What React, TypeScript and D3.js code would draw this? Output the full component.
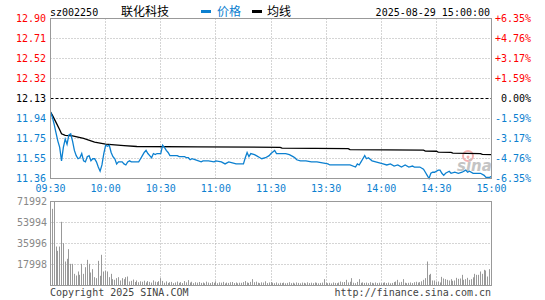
import { useMemo } from "react"
import * as d3 from 'd3'

// stock info
const code = "sz002250"
const stockName = "联化科技"
const dateLabel = "2025-08-29 15:00:00"
const prevClose = 12.13
const maxPct = 6.35

const priceTicks = ["12.90", "12.71", "12.52", "12.32", "12.13", "11.94", "11.75", "11.55", "11.36"]
const pctTicks = [6.35, 4.76, 3.17, 1.59, 0, -1.59, -3.17, -4.76, -6.35]
const pctLabels = ["+6.35%", "+4.76%", "+3.17%", "+1.59%", "0.00%", "-1.59%", "-3.17%", "-4.76%", "-6.35%"]
const volTicks = [71992, 53994, 35996, 17998]
const volMax = 71992

// minute index (0 = 09:30, 120 = 11:30/13:00, 240 = 15:00)
const timeTicks = [0, 30, 60, 90, 120, 150, 180, 210, 240]
const timeLabels = ["09:30", "10:00", "10:30", "11:00", "11:30", "13:30", "14:00", "14:30", "15:00"]

// [minute, price]
const pricePoints: [number, number][] = [
  [0, 12.00], [1, 11.95], [2, 11.88], [3, 11.80], [4, 11.72], [5, 11.66], [6, 11.53], [7, 11.66], [8, 11.74], [9, 11.69],
  [10, 11.78], [11, 11.79], [12, 11.72], [13, 11.63], [14, 11.58], [15, 11.55], [16, 11.56], [17, 11.60], [18, 11.53], [19, 11.52],
  [20, 11.57], [21, 11.58], [22, 11.53], [23, 11.55], [24, 11.55], [25, 11.52], [26, 11.47], [27, 11.43], [28, 11.49], [29, 11.60],
  [30, 11.68], [31, 11.67], [32, 11.68], [33, 11.61], [34, 11.57], [35, 11.55], [36, 11.50], [37, 11.52], [38, 11.52], [39, 11.52],
  [40, 11.50], [41, 11.49], [42, 11.52], [43, 11.53], [44, 11.52], [46, 11.52], [48, 11.52], [49, 11.55], [50, 11.58], [51, 11.61],
  [52, 11.63], [53, 11.60], [54, 11.58], [55, 11.56], [56, 11.60], [57, 11.59], [58, 11.60], [60, 11.60], [61, 11.68], [62, 11.66],
  [63, 11.63], [64, 11.61], [65, 11.58], [69, 11.58], [70, 11.57], [73, 11.57], [74, 11.56], [75, 11.56], [76, 11.54], [77, 11.55],
  [79, 11.54], [82, 11.52], [83, 11.53], [86, 11.53], [89, 11.52], [90, 11.53], [93, 11.52], [95, 11.50], [97, 11.52], [99, 11.51],
  [101, 11.50], [105, 11.50], [106, 11.56], [107, 11.61], [108, 11.57], [109, 11.60], [111, 11.59], [112, 11.58], [114, 11.56], [115, 11.55],
  [117, 11.56], [119, 11.58], [120, 11.60], [122, 11.63], [123, 11.60], [126, 11.60], [128, 11.60], [130, 11.59], [132, 11.57], [133, 11.56],
  [134, 11.54], [136, 11.53], [139, 11.53], [142, 11.52], [145, 11.52], [148, 11.51], [151, 11.50], [152, 11.49], [158, 11.49], [163, 11.49],
  [166, 11.47], [167, 11.50], [168, 11.49], [169, 11.52], [170, 11.55], [171, 11.58], [172, 11.55], [173, 11.56], [175, 11.53], [177, 11.52],
  [179, 11.51], [181, 11.50], [183, 11.49], [185, 11.50], [187, 11.48], [189, 11.49], [191, 11.47], [193, 11.49], [195, 11.47], [197, 11.48],
  [198, 11.47], [201, 11.47], [203, 11.45], [204, 11.42], [205, 11.39], [206, 11.36], [207, 11.41], [208, 11.42], [209, 11.42], [211, 11.44],
  [212, 11.44], [213, 11.41], [214, 11.39], [215, 11.41], [217, 11.43], [218, 11.41], [220, 11.42], [222, 11.41], [224, 11.42], [226, 11.44],
  [227, 11.42], [228, 11.43], [230, 11.41], [232, 11.41], [234, 11.41], [236, 11.39], [237, 11.37], [239, 11.37], [240, 11.38],
]

// [minute, average price]
const avgPoints: [number, number][] = [
  [0, 12.00], [1, 11.97], [3, 11.90], [5, 11.83], [6, 11.79], [8, 11.775], [12, 11.77], [18, 11.745], [24, 11.71], [30, 11.69],
  [40, 11.676], [47, 11.668], [80, 11.665], [125, 11.660], [126, 11.652], [162, 11.648], [163, 11.638], [203, 11.632], [204, 11.624],
  [210, 11.622], [211, 11.614], [218, 11.612], [219, 11.605], [234, 11.600], [235, 11.592], [240, 11.590],
]

// volume per minute, 241 values
const volumes = [
  30570, 65700, 71992, 33400, 29700, 33400, 54570, 36280, 20570, 22860,
  31140, 18570, 18570, 10000, 8570, 12000, 9140, 18570, 10000, 15700,
  22000, 18570, 11140, 14000, 7140, 6290, 21140, 8290, 26290, 12000,
  12570, 12000, 7140, 10000, 5430, 4860, 6290, 7140, 4290, 6290,
  5430, 7140, 7710, 3430, 4000, 5100, 3000, 4300, 2800, 3600,
  3200, 4100, 2600, 3800, 3100, 2500, 4400, 3300, 2900, 3700,
  6290, 3900, 2400, 3500, 2200, 2800, 3100, 2000, 2600, 3400,
  2300, 2900, 2100, 3800, 2700, 4600, 2500, 3200, 2000, 2800,
  2400, 3000, 2200, 2600, 1900, 3300, 2500, 2100, 2900, 2300,
  3600, 2000, 2700, 2400, 3100, 1800, 2500, 2200, 2800, 3000,
  2100, 2600, 1900, 2400, 2300, 2900, 3800, 2600, 2200, 3100,
  5430, 2800, 3300, 2400, 2000, 2700, 2500, 3600, 2100, 2600,
  3000,
  2400, 2000, 2600, 1800, 2300, 2100, 2500, 1900, 2200, 2800,
  2000, 2400, 1700, 2600, 2200, 1900, 2500, 2300, 1800, 2700,
  2100, 2400, 2000, 2600, 2300, 1900, 2200, 2500, 5430, 2400,
  2000, 2300, 1800, 2600, 2200, 2000, 2500, 3400, 2800, 3000,
  4860, 2600, 3200, 6290, 2400, 2000, 3100, 5430, 2300, 2700,
  2200, 2500, 2000, 2800, 2300, 1900, 2600, 2100, 2400, 2000,
  2300, 2700, 2100, 2500, 1900, 2200, 2900, 3400, 4860, 2600,
  3100, 5430, 2400, 2000, 2300, 2600, 2100, 2800, 3200, 2500,
  2900, 3600, 4860, 6290, 20570, 9140, 10000, 4300, 4300, 3430,
  3430, 2600, 7400, 6000, 5430, 4860, 4300, 5430, 4000, 4300,
  6570, 5700, 6000, 9140, 4860, 5430, 6570, 4860, 5430, 7000,
  10000, 9140, 9140, 12000, 10000, 13430, 12860, 7710, 14000, 13000,
]

const RED = "#ff0000"
const BLUE = "#0c80d0"
const GRID = "#aaaaaa"
const BORDER = "#999999"
const MONO = "'DejaVu Sans Mono', monospace"
const CJK = "'Noto Sans CJK SC', sans-serif"

const App = () => {
  const left = 50.5, right = 491.5
  const top = 18.5, bottom = 178.5
  const vTop = 201.5, vBottom = 285.5

  const { x, yPrice, yPct, yVol } = useMemo(() => {
    const x = d3.scaleLinear().domain([0, 240]).range([left, right])
    const yPrice = d3.scaleLinear()
      .domain([prevClose * (1 - maxPct / 100), prevClose * (1 + maxPct / 100)])
      .range([bottom, top])
    const yPct = d3.scaleLinear().domain([-maxPct, maxPct]).range([bottom, top])
    const yVol = d3.scaleLinear().domain([0, volMax]).range([vBottom, vTop])
    return { x, yPrice, yPct, yVol }
  }, [])

  const priceLine = d3.line<[number, number]>()
    .x(d => x(d[0]))
    .y(d => yPrice(d[1]))(pricePoints) || ""
  const avgLine = d3.line<[number, number]>()
    .x(d => x(d[0]))
    .y(d => yPrice(d[1]))(avgPoints) || ""

  const snap = (v: number) => Math.round(v - 0.5) + 0.5
  const tickColor = (p: number) => (p > 0 ? RED : p < 0 ? BLUE : "#000")

  return (
    <div style={{ position: "absolute", left: 0, top: 0 }}>
      <svg width={545} height={300} style={{ display: "block", background: "#fff" }}>
        {/* header */}
        <text x={50} y={12} dy="0.35em" fontFamily={MONO} fontSize={10}>{code}</text>
        <text x={121} y={12} dy="0.35em" fontFamily={CJK} fontSize={12}>{stockName}</text>
        <rect x={201} y={10} width={10} height={3} fill={BLUE} />
        <text x={217} y={12} dy="0.35em" fontFamily={CJK} fontSize={12} fill={BLUE}>价格</text>
        <rect x={252} y={10} width={10} height={3} fill="#000" />
        <text x={267} y={12} dy="0.35em" fontFamily={CJK} fontSize={12}>均线</text>
        <text x={490} y={12} dy="0.35em" fontFamily={MONO} fontSize={10} textAnchor="end">{dateLabel}</text>

        {/* price grid */}
        {pctTicks.map((p, i) => {
          const y = snap(yPct(p))
          return (
            <g key={p}>
              {i > 0 && i < pctTicks.length - 1 && (
                <line x1={left} x2={right} y1={y} y2={y}
                  stroke={p === 0 ? "#000" : GRID}
                  strokeDasharray={p === 0 ? "3 2" : "1 2"} />
              )}
              <text x={46} y={yPct(p)} dy="0.35em" textAnchor="end"
                fontFamily={MONO} fontSize={10} fill={tickColor(p)}>{priceTicks[i]}</text>
              <text x={531} y={yPct(p)} dy="0.35em" textAnchor="end"
                fontFamily={MONO} fontSize={10} fill={tickColor(p)}>{pctLabels[i]}</text>
            </g>
          )
        })}
        {timeTicks.map((t, i) => {
          const xx = snap(x(t))
          return (
            <g key={t}>
              {i > 0 && i < timeTicks.length - 1 && (
                <>
                  <line x1={xx} x2={xx} y1={top} y2={bottom} stroke={GRID} strokeDasharray="1 2" />
                  <line x1={xx} x2={xx} y1={vTop} y2={vBottom} stroke={GRID} strokeDasharray="1 2" />
                </>
              )}
              <text x={x(t)} y={188} dy="0.35em" textAnchor="middle"
                fontFamily={MONO} fontSize={10} fill={BLUE}>{timeLabels[i]}</text>
            </g>
          )
        })}

        {/* watermark */}
        <circle cx={468} cy={156} r={5} fill="none" stroke="#f4b0b0" strokeWidth={2} />
        <circle cx={468} cy={157} r={1.5} fill="#f4b0b0" />
        <text x={457} y={171} fontFamily="'DejaVu Sans', sans-serif" fontSize={15}
          fontStyle="italic" fontWeight="bold" fill="#c4c4c4">sina</text>

        {/* lines */}
        <path d={avgLine} fill="none" stroke="#000" strokeWidth={1.3} />
        <path d={priceLine} fill="none" stroke={BLUE} strokeWidth={1.3} />

        <rect x={left} y={top} width={right - left} height={bottom - top} fill="none" stroke={BORDER} />

        {/* volume */}
        {volTicks.map((v, i) => (
          <g key={v}>
            {i > 0 && (
              <line x1={left} x2={right} y1={snap(yVol(v))} y2={snap(yVol(v))}
                stroke={GRID} strokeDasharray="1 2" />
            )}
            <text x={47} y={yVol(v)} dy="0.35em" textAnchor="end"
              fontFamily={MONO} fontSize={10} fill="#888">{v}</text>
          </g>
        ))}
        {volumes.map((v, i) => (
          <line key={i} x1={snap(x(i))} x2={snap(x(i))} y1={yVol(0)} y2={yVol(v)}
            stroke="#999" strokeWidth={1} />
        ))}
        <rect x={left} y={vTop} width={right - left} height={vBottom - vTop} fill="none" stroke={BORDER} />

        <text x={50} y={292} dy="0.35em" fontFamily={MONO} fontSize={10} fill="#444">Copyright 2025 SINA.COM</text>
        <text x={491} y={292} dy="0.35em" textAnchor="end" fontFamily={MONO} fontSize={10} fill="#444">http://finance.sina.com.cn</text>
      </svg>
    </div>
  )
}

export default App
